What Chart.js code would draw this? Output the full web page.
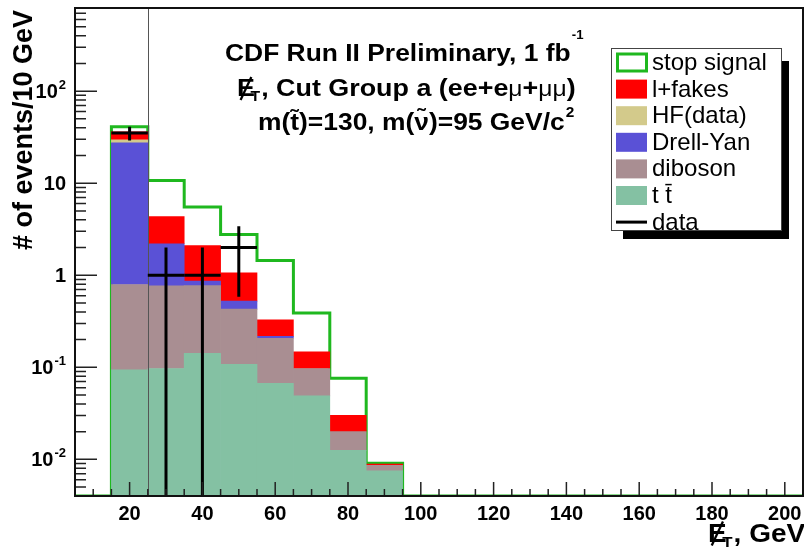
<!DOCTYPE html>
<html>
<head>
<meta charset="utf-8">
<script src="https://cdn.jsdelivr.net/npm/chart.js@4.4.1/dist/chart.umd.min.js"></script>
<style>
  html, body { margin: 0; padding: 0; background: #fff; }
  canvas { display: block; }
</style>
</head>
<body>
<canvas id="plot" width="804" height="548"></canvas>
<script>
// bins of 10 GeV, centres 20..90; everything above 95 GeV is empty
const binCenters = [20, 30, 40, 50, 60, 70, 80, 90];
const binEdges = [5, 15, 25, 35, 45, 55, 65, 75, 85, 95, 205];

// per-process contributions (events / 10 GeV), stacked bottom to top
const ttbar    = [0.094, 0.097, 0.142, 0.108, 0.067, 0.049, 0.0125, 0.0075];
const diboson  = [0.70, 0.67, 0.63, 0.32, 0.14, 0.048, 0.0075, 0.0011];
const drellYan = [26.7, 1.43, 0.09, 0.095, 0.01, 0, 0, 0];
const hfData   = [2.0, 0, 0, 0, 0, 0, 0, 0];
const fakes    = [6.7, 2.15, 1.24, 0.54, 0.111, 0.05, 0.010, 0.0003];
const stopSignal = [4.8, 6.35, 3.4, 1.7, 1.12, 0.243, 0.046, 0.0002];
const dataCounts = [35, 1, 1, 2, 0, 0, 0, 0];

const cutValue = 25;
const xTickLabels = [20, 40, 60, 80, 100, 120, 140, 160, 180, 200];
const yTickValues = [0.01, 0.1, 1, 10, 100];
const yTickLabels = [["10", "-2"], ["10", "-1"], ["1", ""], ["10", ""], ["10", "2"]];

const Y_MIN = 0.004, Y_MAX = 800;
const FONT = '"Liberation Sans", Arial, Helvetica, sans-serif';

const layers = [
  { label: "t t\u0304", vals: ttbar, color: "#84c1a3" },
  { label: "diboson", vals: diboson, color: "#a98e92" },
  { label: "Drell-Yan", vals: drellYan, color: "#5a51d6" },
  { label: "HF(data)", vals: hfData, color: "#d3ca8b" },
  { label: "l+fakes", vals: fakes, color: "#ff0000" },
];
const green = "#1fb81f";

// build floating bars from the cumulative stack
let cum = binCenters.map(() => 0);
const barSets = layers.map(l => {
  const pts = binCenters.map((c, i) => {
    const v = l.vals[i];
    const lo = cum[i] === 0 ? Y_MIN : cum[i];
    cum[i] += v;
    return { x: c, y: v > 0 ? [lo, cum[i]] : null };
  });
  return {
    type: "bar", label: l.label, data: pts,
    backgroundColor: l.color, borderWidth: 0,
    grouped: false, barPercentage: 1, categoryPercentage: 1, order: 1
  };
});
const signalTop = cum.map((c, i) => c + stopSignal[i]);
const outline = [Y_MIN, ...signalTop, Y_MIN, Y_MIN];

const signalSet = {
  type: "line", label: "stop signal",
  data: binEdges.map((e, i) => ({ x: e, y: outline[i] })),
  borderColor: green, borderWidth: 3, stepped: true,
  pointRadius: 0, fill: false, order: 5
};

// draw a run of text pieces: [text, font, dy, gap]
function pieces(ctx, parts, x, y) {
  let cx = x;
  const pos = [];
  parts.forEach(p => {
    ctx.font = p[1];
    ctx.fillText(p[0], cx, y + (p[2] || 0));
    const w = ctx.measureText(p[0]).width;
    pos.push([cx, w]);
    cx += w + (p[3] || 0);
  });
  return pos;
}
function slashE(ctx, x, w, base, h) {
  ctx.save();
  ctx.lineWidth = 2;
  ctx.strokeStyle = "#000";
  ctx.beginPath();
  ctx.moveTo(x + w * 0.2, base + 4);
  ctx.lineTo(x + w * 0.8, base - h - 2);
  ctx.stroke();
  ctx.restore();
}
// text stretched horizontally, anchored at (x, y)
function stretched(ctx, sx, x, y, fn) {
  ctx.save();
  ctx.translate(x, y);
  ctx.scale(sx, 1);
  fn();
  ctx.restore();
}

const decor = {
  id: "decor",
  afterDatasetsDraw(chart) {
    const { ctx, chartArea: a, scales: { x, y } } = chart;
    ctx.save();
    ctx.beginPath();
    ctx.rect(a.left, a.top, a.right - a.left, a.bottom - a.top);
    ctx.clip();
    // cut line
    const cx = Math.round(x.getPixelForValue(cutValue)) + 0.5;
    ctx.strokeStyle = "#555";
    ctx.lineWidth = 1;
    ctx.beginPath(); ctx.moveTo(cx, a.top); ctx.lineTo(cx, a.bottom); ctx.stroke();
    // data points with sqrt(n) errors, x error = bin width
    ctx.strokeStyle = "#000";
    ctx.lineWidth = 3;
    binCenters.forEach((c, i) => {
      const n = dataCounts[i];
      if (!n) return;
      const e = Math.sqrt(n);
      const px = x.getPixelForValue(c);
      const py = y.getPixelForValue(n);
      const top = y.getPixelForValue(n + e);
      const bot = n - e > 0 ? y.getPixelForValue(n - e) : a.bottom + 5;
      ctx.beginPath();
      ctx.moveTo(px, top); ctx.lineTo(px, bot);
      ctx.moveTo(x.getPixelForValue(c - 5), py); ctx.lineTo(x.getPixelForValue(c + 5), py);
      ctx.stroke();
    });
    ctx.restore();
  },
  afterDraw(chart) {
    const { ctx, chartArea: a, scales: { x, y } } = chart;
    ctx.save();
    // ticks
    ctx.strokeStyle = "#222";
    ctx.lineWidth = 1.5;
    ctx.beginPath();
    for (let v = x.min + 5; v < x.max; v += 5) {
      const px = x.getPixelForValue(v);
      const len = v % 20 === 0 ? 14 : 7;
      ctx.moveTo(px, a.bottom); ctx.lineTo(px, a.bottom - len);
    }
    for (let d = -3; d <= 3; d++) {
      for (let k = 1; k <= 9; k++) {
        const v = k * Math.pow(10, d);
        if (v <= Y_MIN || v >= Y_MAX) continue;
        const py = y.getPixelForValue(v);
        ctx.moveTo(a.left, py); ctx.lineTo(a.left + (k === 1 ? 22 : 11), py);
      }
    }
    ctx.stroke();
    // frame
    ctx.strokeStyle = "#111";
    ctx.lineWidth = 2;
    ctx.strokeRect(a.left, a.top, a.right - a.left, a.bottom - a.top);

    // tick labels
    ctx.fillStyle = "#000";
    ctx.textBaseline = "alphabetic";
    ctx.textAlign = "center";
    ctx.font = "bold 20px " + FONT;
    xTickLabels.forEach(v => ctx.fillText(String(v), x.getPixelForValue(v), 519.5));
    ctx.textAlign = "left";
    yTickValues.forEach((v, i) => {
      const [b, s] = yTickLabels[i];
      const py = y.getPixelForValue(v);
      ctx.font = "bold 20px " + FONT;
      const wb = ctx.measureText(b).width;
      ctx.font = "bold 13px " + FONT;
      const ws = s ? ctx.measureText(s).width + 1 : 0;
      const x0 = 66 - wb - ws;
      pieces(ctx, [[b, "bold 20px " + FONT, 0, 1], [s, "bold 13px " + FONT, -9]], x0, py + 7);
    });

    // axis titles
    ctx.save();
    ctx.translate(32, 10);
    ctx.rotate(-Math.PI / 2);
    ctx.textAlign = "right";
    ctx.font = "bold 27px " + FONT;
    ctx.fillText("# of events/10 GeV", 0, 0);
    ctx.restore();

    ctx.textAlign = "left";
    stretched(ctx, 1.12, 708, 541.5, () => {
      const p = pieces(ctx, [["E", "bold 25px " + FONT, 0, -4], ["T", "bold 15px " + FONT, 5, 1],
                             [", GeV", "bold 25px " + FONT, 0]], 0, 0);
      slashE(ctx, p[0][0], p[0][1], 0, 18);
    });

    // text block
    const B = s => "bold " + s + "px " + FONT;
    stretched(ctx, 1.1, 225, 61, () => {
      pieces(ctx, [["CDF Run II Preliminary, 1 fb", B(24), 0, 1], ["-1", B(12), -22]], 0, 0);
    });
    stretched(ctx, 1.12, 237, 96, () => {
      const p = pieces(ctx, [["E", B(24), 0, -4], ["T", B(14), 5, 1], [", Cut Group a (ee+e", B(24), 0],
                             ["\u03bc", "22px " + FONT, 0], ["+", B(24), 0], ["\u03bc\u03bc", "22px " + FONT, 0],
                             [")", B(24), 0]], 0, 0);
      slashE(ctx, p[0][0], p[0][1], 0, 17);
    });
    stretched(ctx, 1.1, 258, 130, () => {
      pieces(ctx, [["m(t\u0303)=130, m(\u03bd\u0303)=95 GeV/c", B(24), 0, 1], ["2", B(14), -13]], 0, 0);
    });

    // legend with drop shadow
    const L = { x: 611, y: 48, w: 170, h: 182 };
    ctx.fillStyle = "#000";
    ctx.fillRect(L.x + L.w, L.y + 13, 8, L.h - 4);
    ctx.fillRect(L.x + 12, L.y + L.h, L.w - 4, 9);
    ctx.fillStyle = "#fff";
    ctx.fillRect(L.x, L.y, L.w, L.h);
    ctx.strokeStyle = "#444";
    ctx.lineWidth = 1;
    ctx.strokeRect(L.x + 0.5, L.y + 0.5, L.w, L.h);
    const entries = [
      { label: "stop signal", kind: "box" },
      ...layers.slice().reverse().map(l => ({ label: l.label, kind: "fill", color: l.color })),
      { label: "data", kind: "line" }
    ];
    ctx.font = "24px " + FONT;
    entries.forEach((en, i) => {
      const cy = 62.5 + i * 26.6;
      if (en.kind === "box") {
        ctx.strokeStyle = green; ctx.lineWidth = 3;
        ctx.strokeRect(617.5, cy - 8.5, 29, 17);
      } else if (en.kind === "fill") {
        ctx.fillStyle = en.color;
        ctx.fillRect(616, cy - 9.5, 31, 19);
      } else {
        ctx.strokeStyle = "#000"; ctx.lineWidth = 3;
        ctx.beginPath(); ctx.moveTo(616, cy); ctx.lineTo(647, cy); ctx.stroke();
      }
      ctx.fillStyle = "#000";
      ctx.fillText(en.label, 652, cy + 7.5);
    });
    ctx.restore();
  }
};

new Chart(document.getElementById("plot"), {
  type: "bar",
  data: { datasets: [...barSets, signalSet] },
  options: {
    responsive: false,
    animation: false,
    layout: { padding: { left: 75, top: 8, right: 1, bottom: 52 } },
    plugins: { legend: { display: false }, tooltip: { enabled: false } },
    scales: {
      x: { type: "linear", min: 5, max: 205, offset: false, display: false, ticks: { stepSize: 10 } },
      y: { type: "logarithmic", min: Y_MIN, max: Y_MAX, display: false }
    }
  },
  plugins: [decor]
});
</script>
</body>
</html>
